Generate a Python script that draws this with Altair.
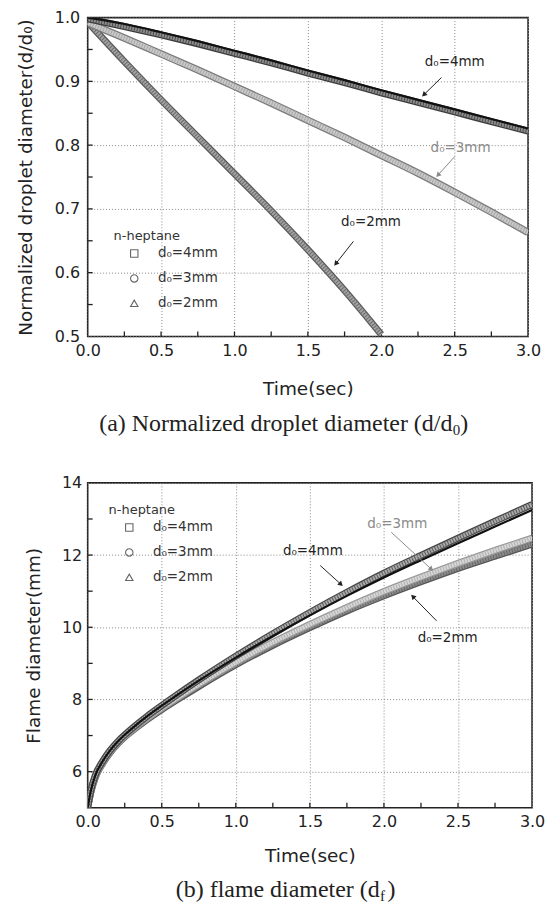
import math
import altair as alt
import pandas as pd

SANS = "DejaVu Sans"
SERIF = "Liberation Serif"
INK = "#222222"

series = ["d₀=4mm", "d₀=3mm", "d₀=2mm"]

# ---------------- (a) normalized droplet diameter d/d0 ----------------
a_time = [0.0, 0.25, 0.5, 0.75, 1.0, 1.25, 1.5, 1.75, 2.0, 2.25, 2.5, 2.75, 3.0]
a_4mm = [0.998, 0.986, 0.973, 0.959, 0.944, 0.929, 0.913, 0.898, 0.882, 0.867, 0.852, 0.837, 0.822]
a_4mm_line = [1.000, 0.990, 0.977, 0.963, 0.948, 0.933, 0.917, 0.902, 0.886, 0.871, 0.856, 0.841, 0.826]
a_3mm = [0.992, 0.968, 0.943, 0.918, 0.892, 0.866, 0.839, 0.812, 0.784, 0.756, 0.726, 0.695, 0.663]
a_2mm_time = [0.0, 0.25, 0.5, 0.75, 1.0, 1.25, 1.5, 1.75, 2.0]
a_2mm = [0.993, 0.931, 0.871, 0.813, 0.755, 0.697, 0.636, 0.572, 0.503]

a_ann_text = ["d₀=4mm", "d₀=3mm", "d₀=2mm"]
a_ann_color = ["#222222", "#8a8a8a", "#222222"]
a_ann_t = [2.50, 2.54, 1.93]
a_ann_v = [0.930, 0.796, 0.679]
a_arr_t1 = [2.41, 2.50, 1.81]
a_arr_v1 = [0.906, 0.782, 0.649]
a_arr_t2 = [2.29, 2.386, 1.69]
a_arr_v2 = [0.879, 0.753, 0.614]

# ---------------- (b) flame diameter d_f (mm) ----------------
b_time = [0.0, 0.02, 0.05, 0.1, 0.15, 0.2, 0.25, 0.3, 0.4, 0.5, 0.6, 0.75,
          1.0, 1.25, 1.5, 1.75, 2.0, 2.25, 2.5, 2.75, 3.0]
b_4mm = [5.0, 5.45, 5.88, 6.28, 6.58, 6.82, 7.02, 7.2, 7.53, 7.83, 8.12, 8.54,
         9.2, 9.82, 10.41, 10.97, 11.5, 11.99, 12.47, 12.94, 13.4]
b_4mm_line = [5.0, 5.45, 5.88, 6.28, 6.58, 6.82, 7.02, 7.2, 7.53, 7.83, 8.11, 8.52,
              9.16, 9.76, 10.33, 10.87, 11.38, 11.86, 12.33, 12.79, 13.25]
b_3mm = [5.0, 5.42, 5.84, 6.24, 6.54, 6.78, 6.98, 7.15, 7.47, 7.76, 8.03, 8.42,
         9.03, 9.58, 10.08, 10.55, 10.99, 11.39, 11.77, 12.13, 12.47]
b_2mm = [5.0, 5.4, 5.82, 6.22, 6.52, 6.76, 6.96, 7.13, 7.44, 7.72, 7.98, 8.36,
         8.96, 9.5, 9.99, 10.45, 10.87, 11.26, 11.63, 11.97, 12.3]

b_ann_text = ["d₀=4mm", "d₀=3mm", "d₀=2mm"]
b_ann_color = ["#222222", "#8a8a8a", "#222222"]
b_ann_t = [1.52, 2.09, 2.43]
b_ann_v = [12.11, 12.86, 9.70]
b_arr_t1 = [1.57, 2.05, 2.355]
b_arr_v1 = [11.71, 12.63, 10.18]
b_arr_t2 = [1.71, 2.32, 2.195]
b_arr_v2 = [11.19, 11.61, 10.85]

# axis tick values
x_labels = [0.0, 0.5, 1.0, 1.5, 2.0, 2.5, 3.0]
x_minor = [0.25, 0.75, 1.25, 1.75, 2.25, 2.75]
x_major_in = [0.5, 1.0, 1.5, 2.0, 2.5]
a_y_labels = [0.5, 0.6, 0.7, 0.8, 0.9, 1.0]
a_y_major_in = [0.6, 0.7, 0.8, 0.9]
a_y_minor = [0.55, 0.65, 0.75, 0.85, 0.95]
b_y_labels = [6, 8, 10, 12, 14]
b_y_major_in = [6, 8, 10, 12]
b_y_minor = [7, 9, 11, 13]


def panel(W, H, ydom, y_labels, yfmt, ytitle, ytitle_x, ylabel_pad, y_major_in, y_minor,
          bands, styles, model, ann, arrows, legend_orient, legend_offset,
          cap_main, cap_sub, cap_x, xtitle_y, cap_y):
    xs = alt.Scale(domain=[0, 3], nice=False, zero=False)
    ys = alt.Scale(domain=ydom, nice=False, zero=False)
    xaxis = alt.Axis(values=x_labels, format=".1f", title="Time(sec)", grid=True,
                     gridColor="#8a8a8a", gridDash=[1, 2], gridWidth=1, ticks=False,
                     domain=False, labelFont=SANS, labelFontSize=16, labelColor=INK,
                     labelPadding=6, labelOverlap=False, labelFlush=False,
                     titleFont=SANS, titleFontSize=18.5, titleFontWeight="normal",
                     titleColor=INK, titleY=xtitle_y, titleBaseline="middle")
    yaxis = alt.Axis(values=y_labels, format=yfmt, title=ytitle, grid=True,
                     gridColor="#8a8a8a", gridDash=[1, 2], gridWidth=1, ticks=False,
                     domain=False, labelFont=SANS, labelFontSize=16, labelColor=INK,
                     labelPadding=ylabel_pad, labelOverlap=False, labelFlush=False,
                     titleFont=SANS, titleFontSize=18.5, titleFontWeight="normal",
                     titleColor=INK, titleX=ytitle_x, titleY=H / 2,
                     titleBaseline="middle", titleAngle=270)

    def X(f="t"):
        return alt.X(f"{f}:Q", scale=xs, axis=xaxis)

    def Y(f="v"):
        return alt.Y(f"{f}:Q", scale=ys, axis=yaxis)

    layers = []
    # inward ticks on bottom and left frame
    xt = pd.DataFrame({"t": x_major_in + x_minor})
    layers.append(alt.Chart(xt).mark_rule(color=INK, strokeWidth=1.3).encode(
        x=X(), y=alt.value(H), y2=alt.value(H - 5)))
    yt = pd.DataFrame({"v": y_major_in + y_minor})
    layers.append(alt.Chart(yt).mark_rule(color=INK, strokeWidth=1.3).encode(
        y=Y(), x=alt.value(0), x2=alt.value(5)))

    # bands (dense marker series drawn as striped thick lines)
    for name in ["d₀=2mm", "d₀=3mm", "d₀=4mm"]:
        df = bands[name]
        outer, inner, stripe, w = styles[name]
        base = alt.Chart(df)
        enc = dict(x=X(), y=Y())
        layers.append(base.mark_line(color=outer, strokeWidth=w, interpolate="monotone",
                                     clip=True, strokeCap="butt").encode(**enc))
        layers.append(base.mark_line(color=inner, strokeWidth=w - 2.6, interpolate="monotone",
                                     clip=True, strokeCap="butt").encode(**enc))
        layers.append(base.mark_line(color=stripe, strokeWidth=w - 2.6, interpolate="monotone",
                                     clip=True, strokeCap="butt", strokeDash=[1, 1.8]).encode(**enc))

    # model line (black)
    layers.append(alt.Chart(model).mark_line(color="#111111", strokeWidth=2.2,
                                             interpolate="monotone", clip=True).encode(x=X(), y=Y()))

    # legend carrier (invisible points)
    allb = pd.concat([bands[n] for n in series])
    leg = alt.Legend(title="n-heptane", orient=legend_orient, offset=legend_offset,
                     titleFont=SANS, titleFontSize=13, titleFontWeight="normal",
                     titleColor="#333333", titlePadding=4, labelFont=SANS, labelFontSize=13.5,
                     labelColor="#333333", symbolSize=55, symbolStrokeColor="#666666",
                     symbolFillColor="white", symbolStrokeWidth=1.1, symbolOpacity=1,
                     symbolOffset=14, rowPadding=10, labelOffset=17, padding=0)
    layers.append(alt.Chart(allb).mark_point(opacity=0, clip=True).encode(
        x=X(), y=Y(),
        shape=alt.Shape("s:N", scale=alt.Scale(domain=series,
                                               range=["square", "circle", "triangle-up"]),
                        legend=leg)))

    # annotations
    layers.append(alt.Chart(ann).mark_text(font=SANS, fontSize=13.5, baseline="middle").encode(
        x=X(), y=Y(), text="label:N", color=alt.Color("col:N", scale=None)))
    layers.append(alt.Chart(arrows).mark_rule(strokeWidth=1).encode(
        x=X(), y=Y(), x2=alt.X2("t2:Q"), y2=alt.Y2("v2:Q"),
        color=alt.Color("col:N", scale=None)))
    layers.append(alt.Chart(arrows).mark_point(shape="triangle-up", filled=True, size=32,
                                               opacity=1).encode(
        x=X("t2"), y=Y("v2"), angle=alt.Angle("ang:Q", scale=None),
        color=alt.Color("col:N", scale=None)))

    # caption below panel
    cap = pd.DataFrame({"k": [0]})
    layers.append(alt.Chart(cap).mark_text(font=SERIF, fontSize=24, align="right",
                                           baseline="middle", color=INK).encode(
        x=alt.value(cap_x), y=alt.value(H + cap_y), text=alt.value(cap_main)))
    layers.append(alt.Chart(cap).mark_text(font=SERIF, fontSize=15, align="left",
                                           baseline="middle", color=INK).encode(
        x=alt.value(cap_x + 0.5), y=alt.value(H + cap_y + 6), text=alt.value(cap_sub)))
    layers.append(alt.Chart(cap).mark_text(font=SERIF, fontSize=24, align="left",
                                           baseline="middle", color=INK).encode(
        x=alt.value(cap_x + 8), y=alt.value(H + cap_y), text=alt.value(")")))

    return alt.layer(*layers).properties(width=W, height=H)


def arrows_df(t1, v1, t2, v2, cols, W, H, ydom):
    ppt = W / 3.0
    ppv = H / (ydom[1] - ydom[0])
    angs = []
    for a, b, c, d in zip(t1, v1, t2, v2):
        dx = (c - a) * ppt
        dy = -(d - b) * ppv
        angs.append(math.degrees(math.atan2(dx, -dy)) % 360)
    return pd.DataFrame({"t": t1, "v": v1, "t2": t2, "v2": v2, "col": cols, "ang": angs})


# ---- panel (a)
WA, HA = 442, 320
ydom_a = [0.5, 1.0]
bands_a = {
    "d₀=4mm": pd.DataFrame({"t": a_time, "v": a_4mm, "s": "d₀=4mm"}),
    "d₀=3mm": pd.DataFrame({"t": a_time, "v": a_3mm, "s": "d₀=3mm"}),
    "d₀=2mm": pd.DataFrame({"t": a_2mm_time, "v": a_2mm, "s": "d₀=2mm"}),
}
styles_a = {
    "d₀=4mm": ("#3c3c3c", "#8e8e8e", "#4a4a4a", 7.0),
    "d₀=3mm": ("#7c7c7c", "#cacaca", "#a6a6a6", 7.5),
    "d₀=2mm": ("#5c5c5c", "#a4a4a4", "#6a6a6a", 7.0),
}
model_a = pd.DataFrame({"t": a_time, "v": a_4mm_line})
ann_a = pd.DataFrame({"t": a_ann_t, "v": a_ann_v, "label": a_ann_text, "col": a_ann_color})
arr_a = arrows_df(a_arr_t1, a_arr_v1, a_arr_t2, a_arr_v2, a_ann_color, WA, HA, ydom_a)

top = panel(WA, HA, ydom_a, a_y_labels, ".1f", "Normalized droplet diameter(d/d₀)", -62, 8,
            a_y_major_in, a_y_minor, bands_a, styles_a, model_a, ann_a, arr_a,
            "bottom-left", 26, "(a) Normalized droplet diameter (d/d", "0", 366, 52, 88)

# ---- panel (b)
WB, HB = 446, 326
ydom_b = [5, 14]
bands_b = {
    "d₀=4mm": pd.DataFrame({"t": b_time, "v": b_4mm, "s": "d₀=4mm"}),
    "d₀=3mm": pd.DataFrame({"t": b_time, "v": b_3mm, "s": "d₀=3mm"}),
    "d₀=2mm": pd.DataFrame({"t": b_time, "v": b_2mm, "s": "d₀=2mm"}),
}
styles_b = {
    "d₀=4mm": ("#474747", "#ababab", "#5a5a5a", 7.0),
    "d₀=3mm": ("#9a9a9a", "#d8d8d8", "#b0b0b0", 7.0),
    "d₀=2mm": ("#555555", "#8c8c8c", "#666666", 7.0),
}
model_b = pd.DataFrame({"t": b_time, "v": b_4mm_line})
ann_b = pd.DataFrame({"t": b_ann_t, "v": b_ann_v, "label": b_ann_text, "col": b_ann_color})
arr_b = arrows_df(b_arr_t1, b_arr_v1, b_arr_t2, b_arr_v2, b_ann_color, WB, HB, ydom_b)

bottom = panel(WB, HB, ydom_b, b_y_labels, "d", "Flame diameter(mm)", -54.5, 6,
               b_y_major_in, b_y_minor, bands_b, styles_b, model_b, ann_b, arr_b,
               "top-left", 21, "(b) flame diameter (d", "f", 293, 48, 83)

chart = (
    alt.vconcat(top, bottom, spacing=35)
    .resolve_scale(x="independent", y="independent", shape="independent")
    .resolve_legend(shape="independent")
    .properties(padding={"left": 16, "top": 7, "right": 4, "bottom": 4}, background="white")
    .configure_view(stroke=INK, strokeWidth=1.6)
)

chart.save("out.html", embed_options={"renderer": "svg", "actions": False})
